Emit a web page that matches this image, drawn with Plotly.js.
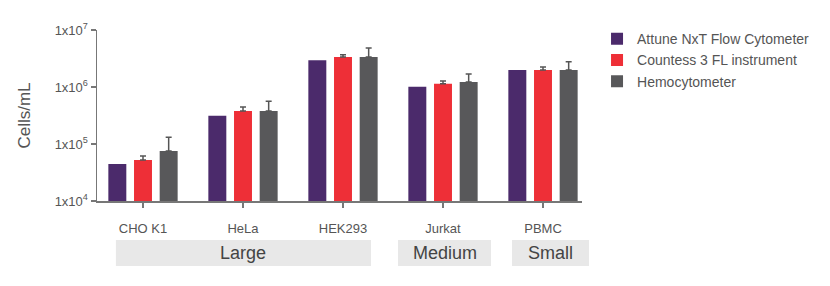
<!DOCTYPE html>
<html>
<head>
<meta charset="utf-8">
<script src="https://cdn.plot.ly/plotly-3.0.1.min.js"></script>
<style>html,body{margin:0;padding:0;background:#fff;}#chart{width:830px;height:286px;}</style>
</head>
<body>
<div id="chart"></div>
<script>
const categories = ["CHO K1", "HeLa", "HEK293", "Jurkat", "PBMC"];
const seriesNames = ["Attune NxT Flow Cytometer", "Countess 3 FL instrument", "Hemocytometer"];
const attune = [44600, 314000, 2940000, 1010000, 1990000];
const countess = [52400, 379000, 3360000, 1140000, 1990000];
const hemo = [75400, 379000, 3360000, 1220000, 1990000];
const countessErr = [9100, 67000, 330000, 130000, 250000];
const hemoErr = [55600, 182000, 1470000, 470000, 790000];
const attuneErr = [0, 0, 0, 0, 0];
const yTickVals = [1e4, 1e5, 1e6, 1e7];
const yTickText = ["1x10<sup>4</sup>", "1x10<sup>5</sup>", "1x10<sup>6</sup>", "1x10<sup>7</sup>"];
const groupNames = ["Large", "Medium", "Small"];

// band extents in paper coordinates (layout, not data)
const bandX0 = [0.039, 0.6206, 0.8557];
const bandX1 = [0.565, 0.8124, 1.0144];

const colors = ["#4b2a6b", "#ee2f37", "#58585a"];
const values = [attune, countess, hemo];
const errs = [attuneErr, countessErr, hemoErr];

const traces = values.map((v, i) => ({
  type: "bar",
  name: seriesNames[i],
  x: categories,
  y: v,
  marker: {color: colors[i]},
  legendgroup: "g" + i,
  error_y: i === 0 ? {visible: false} : {
    type: "data", symmetric: false, array: errs[i], arrayminus: v.map(() => 0),
    color: "#555555", thickness: 1.5, width: 3
  }
}));

const shapes = groupNames.map((g, i) => ({
  type: "rect", xref: "paper", yref: "paper",
  x0: bandX0[i], x1: bandX1[i], y0: -0.38, y1: -0.228,
  fillcolor: "#e8e8e8", line: {width: 0}, layer: "below"
}));
const annotations = groupNames.map((g, i) => ({
  xref: "paper", yref: "paper", x: (bandX0[i] + bandX1[i]) / 2, y: -0.304,
  text: g, showarrow: false, yanchor: "middle", xanchor: "center",
  font: {family: "Liberation Sans, Arial, sans-serif", size: 18, color: "#444"}
}));

const layout = {
  width: 830, height: 286,
  margin: {l: 97, r: 248, t: 30, b: 85},
  paper_bgcolor: "#fff", plot_bgcolor: "#fff",
  barmode: "group", bargap: 0.23, bargroupgap: 0.3,
  font: {family: "Liberation Sans, Arial, sans-serif", color: "#555"},
  xaxis: {
    range: [-0.46, 4.39], showgrid: false, zeroline: false,
    showline: true, linecolor: "#777", linewidth: 1.5,
    ticks: "outside", ticklen: 5, tickcolor: "#777", tickwidth: 1.5,
    tickfont: {size: 13, color: "#555"}, ticklabelstandoff: 10, fixedrange: true
  },
  yaxis: {
    type: "log", range: [4, 7], showgrid: false, zeroline: false,
    showline: true, linecolor: "#777", linewidth: 1.5,
    ticks: "outside", ticklen: 5, tickcolor: "#777", tickwidth: 1.5,
    tickvals: yTickVals, ticktext: yTickText,
    tickfont: {size: 13, color: "#555"},
    title: {text: "Cells/mL", font: {size: 17, color: "#555"}, standoff: 19}
  },
  legend: {
    x: 1.031, y: 1.04, xanchor: "left", yanchor: "top",
    font: {size: 14, color: "#555"}, tracegroupgap: 3, traceorder: "normal"
  },
  shapes: shapes,
  annotations: annotations
};

Plotly.newPlot("chart", traces, layout, {displayModeBar: false, staticPlot: true});
</script>
</body>
</html>
